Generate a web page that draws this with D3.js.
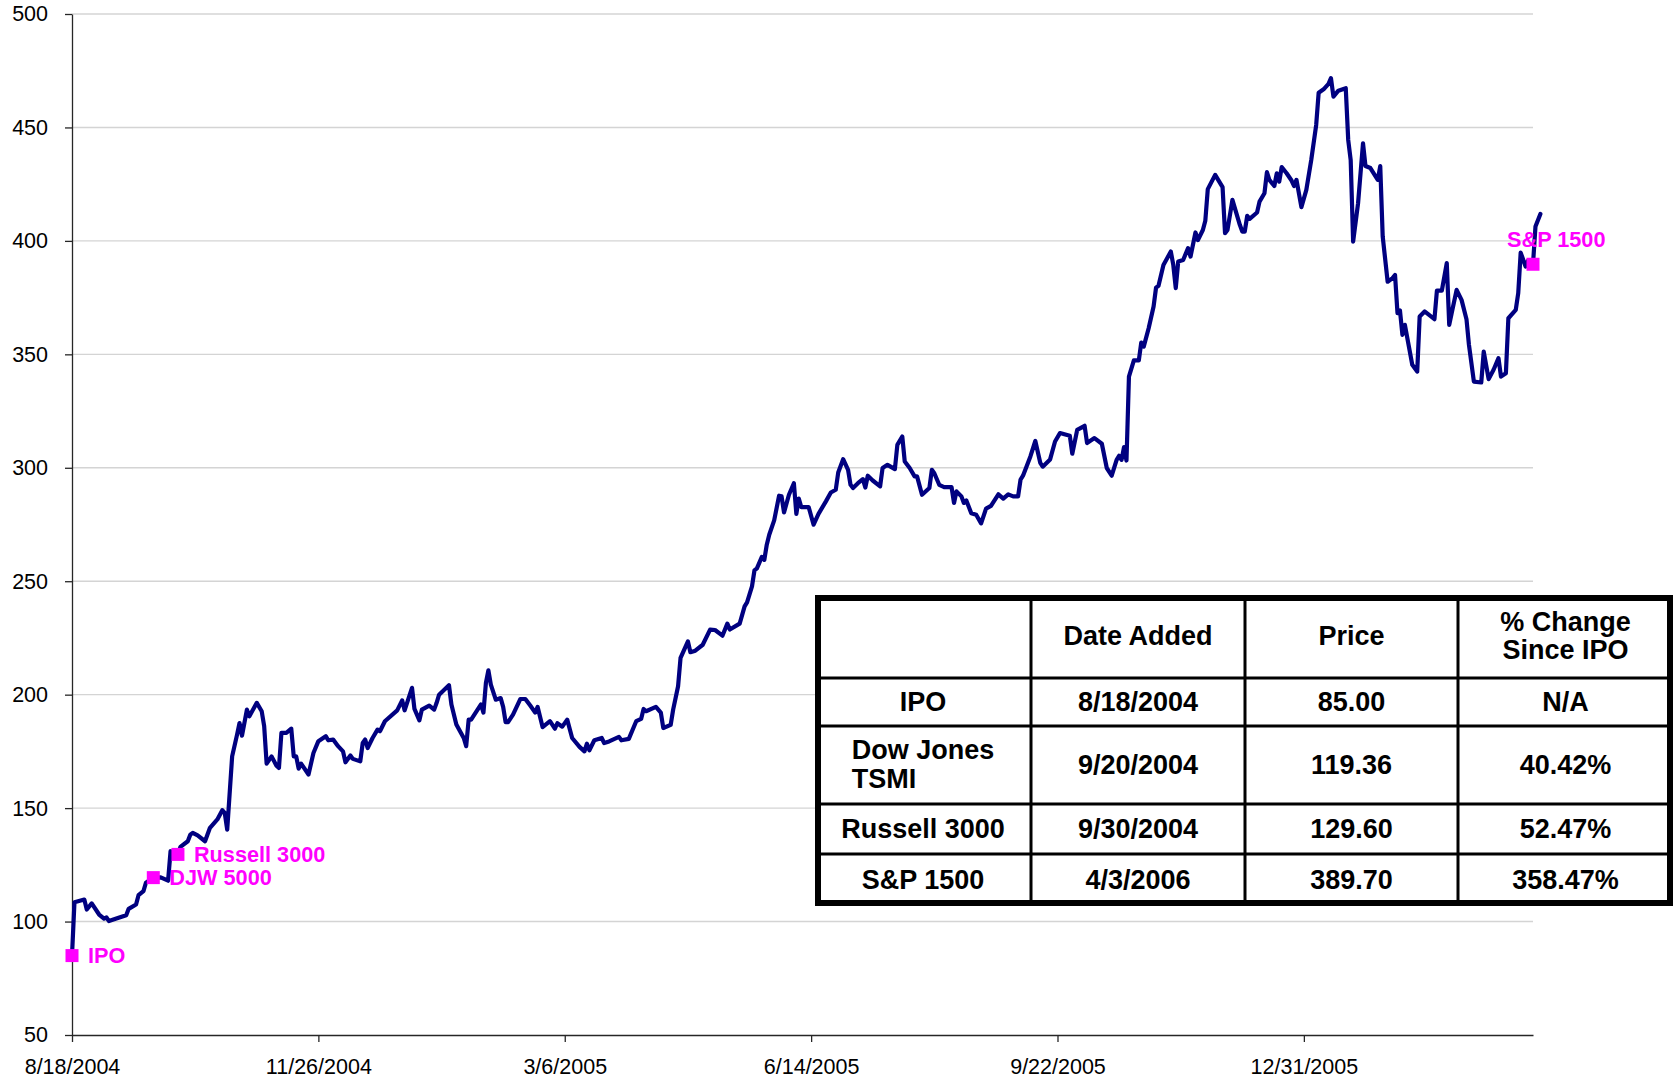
<!DOCTYPE html>
<html>
<head>
<meta charset="utf-8">
<script src="https://cdn.jsdelivr.net/npm/d3@7"></script>
<style>
  html, body { margin: 0; padding: 0; background: #fff; }
  svg { display: block; font-family: "Liberation Sans", Arial, Helvetica, sans-serif; }
</style>
</head>
<body>
<svg id="chart" width="1675" height="1081"></svg>
<script>
// ---- Data -------------------------------------------------------------
// Listing date and daily closing prices (days counted from the IPO date)
const ipoDateText = "8/18/2004";
const axisEndText = "4/3/2006";

const tradingDay = [
  0, 1, 5, 6, 8, 11, 13, 14, 15, 18, 22, 23, 26, 27, 29, 30, 33, 36, 39, 40,
  43, 44, 47, 48, 49, 51, 54, 56, 59, 61, 62, 63, 65, 67, 68, 69, 71, 72, 75, 77,
  78, 79, 81, 83, 84, 85, 87, 89, 90, 91, 92, 93, 96, 98, 100, 103, 104, 106, 108, 110,
  111, 113, 114, 117, 118, 119, 120, 122, 124, 125, 127, 132, 134, 135, 138, 139, 141, 142, 145, 147,
  148, 149, 153, 154, 156, 159, 160, 161, 162, 166, 167, 168, 169, 170, 172, 174, 175, 176, 177, 179,
  182, 184, 186, 188, 189, 191, 194, 196, 197, 199, 201, 203, 206, 208, 209, 210, 212, 215, 216, 218,
  222, 223, 226, 229, 231, 232, 233, 237, 239, 240, 243, 244, 246, 247, 250, 251, 253, 256, 259, 261,
  264, 266, 267, 271, 273, 274, 276, 277, 278, 280, 281, 282, 283, 285, 287, 288, 289, 291, 293, 294,
  295, 296, 299, 301, 303, 306, 308, 310, 311, 313, 315, 316, 317, 319, 321, 322, 323, 325, 328, 329,
  331, 334, 335, 337, 338, 340, 342, 343, 345, 348, 349, 350, 352, 354, 357, 358, 359, 361, 362, 363,
  365, 367, 369, 371, 373, 376, 378, 380, 382, 384, 385, 386, 389, 391, 393, 394, 397, 399, 401, 405,
  406, 408, 411, 412, 415, 418, 420, 422, 424, 425, 426, 427, 428, 429, 431, 433, 434, 435, 437, 439,
  440, 441, 443, 446, 447, 448, 449, 451, 453, 454, 456, 457, 459, 460, 461, 464, 467, 468, 469, 471,
  474, 475, 476, 477, 478, 481, 482, 484, 485, 486, 488, 489, 490, 491, 493, 495, 496, 497, 499, 501,
  503, 505, 506, 508, 510, 511, 512, 514, 517, 518, 519, 520, 522, 524, 525, 527, 530, 531, 532, 534,
  536, 537, 538, 539, 540, 541, 544, 546, 547, 549, 553, 554, 556, 558, 559, 560, 562, 564, 566, 567,
  569, 572, 573, 575, 577, 579, 580, 582, 583, 586, 587, 588, 590, 591, 593, 594, 596
];

const closePrice = [
  85.00, 108.5, 109.7, 105.3, 108.0, 103.1, 101.3, 101.8, 100.2, 101.3, 102.8, 105.6, 107.5, 111.6, 113.4, 117.1, 119.36, 119.5, 118.0, 131.0,
  129.60, 132.9, 135.4, 138.3, 139.1, 138.0, 135.4, 141.3, 145.0, 149.1, 147.9, 140.5, 172.8, 182.4, 187.5, 181.9, 193.4, 190.5, 196.4, 192.7,
  186.1, 169.6, 172.8, 168.7, 167.7, 183.2, 183.2, 185.0, 172.8, 172.8, 167.4, 169.6, 164.8, 174.3, 179.5, 181.7, 179.9, 180.2, 177.3, 175.0,
  170.2, 173.2, 171.7, 170.6, 178.7, 180.2, 176.5, 180.9, 184.6, 183.9, 188.3, 193.1, 197.5, 193.1, 203.0, 193.7, 188.7, 193.4, 195.2, 193.4,
  196.4, 200.0, 204.2, 195.7, 186.9, 180.9, 177.3, 189.0, 189.0, 195.7, 192.1, 205.2, 210.7, 204.4, 197.8, 198.5, 194.6, 187.9, 187.9, 191.2,
  198.1, 198.1, 195.2, 192.1, 194.6, 185.7, 188.3, 185.0, 187.4, 185.9, 189.0, 180.9, 177.0, 175.0, 178.4, 175.5, 179.9, 180.9, 178.7, 179.4,
  181.4, 179.9, 180.5, 188.3, 189.3, 193.7, 192.7, 194.6, 192.1, 185.3, 186.7, 193.4, 203.7, 216.2, 223.5, 218.7, 219.4, 222.0, 228.7, 228.5,
  226.0, 231.3, 228.7, 231.3, 238.9, 240.7, 247.7, 254.8, 255.7, 260.7, 259.4, 266.1, 270.5, 276.8, 287.7, 287.4, 280.3, 288.1, 293.2, 279.7,
  286.4, 282.7, 282.7, 274.9, 279.7, 285.2, 289.1, 290.3, 297.9, 303.8, 299.1, 292.5, 291.1, 293.2, 295.0, 291.3, 296.5, 294.4, 291.8, 299.9,
  301.3, 299.4, 310.1, 313.8, 302.8, 299.9, 296.2, 296.2, 288.1, 291.1, 299.1, 297.6, 292.5, 291.5, 291.5, 284.5, 289.6, 287.4, 284.5, 285.6,
  280.0, 279.3, 275.5, 282.0, 283.2, 288.3, 286.4, 288.3, 287.4, 287.4, 294.8, 296.5, 305.0, 311.8, 302.2, 300.5, 303.7, 311.6, 315.3, 314.1,
  306.2, 316.7, 318.5, 310.9, 313.1, 310.6, 299.9, 296.5, 303.5, 305.3, 303.5, 309.1, 303.2, 340.2, 347.3, 347.3, 355.2, 353.4, 361.5, 371.1,
  379.4, 380.2, 389.4, 395.3, 389.4, 379.2, 390.9, 391.6, 396.8, 393.1, 403.7, 400.4, 404.8, 408.9, 422.8, 429.1, 423.7, 403.4, 404.8, 418.1,
  407.1, 404.1, 404.1, 411.0, 409.7, 412.5, 417.3, 421.0, 430.3, 426.9, 424.2, 429.8, 426.1, 432.5, 429.8, 426.6, 424.2, 426.9, 414.9, 422.5,
  435.7, 451.1, 465.3, 466.8, 469.2, 471.7, 463.6, 466.2, 467.3, 444.5, 435.7, 399.7, 416.6, 443.0, 433.0, 432.1, 426.9, 433.0, 401.9, 382.0,
  383.6, 385.0, 368.2, 369.3, 358.6, 363.0, 345.4, 342.4, 366.7, 368.9, 365.5, 378.1, 378.1, 390.2, 363.0, 368.2, 378.4, 374.0, 365.5, 354.2,
  338.0, 337.6, 351.2, 339.1, 343.2, 348.3, 340.2, 341.7, 365.9, 369.6, 376.9, 394.8, 388.7, 391.3, 389.70, 406.3, 411.9
];

// Index additions flagged on the price line
const markerNames  = ["IPO", "DJW 5000", "Russell 3000", "S&P 1500"];
const markerDates  = ["8/18/2004", "9/20/2004", "9/30/2004", "4/3/2006"];
const markerPrices = [85.00, 119.36, 129.60, 389.70];

// Summary table
const tableHeaders   = ["", "Date Added", "Price", "% Change\nSince IPO"];
const tableRowLabels = ["IPO", "Dow Jones\nTSMI", "Russell 3000", "S&P 1500"];

// Axis ticks
const yTickValues = [50, 100, 150, 200, 250, 300, 350, 400, 450, 500];
const xTickLabels = ["8/18/2004", "11/26/2004", "3/6/2005", "6/14/2005", "9/22/2005", "12/31/2005"];

// ---- Layout -----------------------------------------------------------
const W = 1675, H = 1081;
const plot = { left: 72, top: 14, right: 1533, bottom: 1035 };
const NAVY = "#000080", MAGENTA = "#ff00ff";

const parseDate = d3.timeParse("%m/%d/%Y");
const fmtDate = d3.timeFormat("%-m/%-d/%Y");
const ipoDate = parseDate(ipoDateText);

const series = tradingDay.map((d, i) => ({
  date: d3.timeDay.offset(ipoDate, d),
  price: closePrice[i]
}));

const x = d3.scaleTime()
  .domain([ipoDate, parseDate(axisEndText)])
  .range([plot.left, plot.right]);

const y = d3.scaleLinear()
  .domain([50, 500])
  .range([plot.bottom, plot.top]);

const svg = d3.select("#chart");
svg.append("rect").attr("width", W).attr("height", H).attr("fill", "#fff");

// Horizontal gridlines
svg.append("g")
  .selectAll("line")
  .data(yTickValues.filter(v => v > 50))
  .join("line")
  .attr("x1", plot.left).attr("x2", plot.right)
  .attr("y1", d => y(d)).attr("y2", d => y(d))
  .attr("stroke", "#d4d4d4").attr("stroke-width", 1.4);

// Y axis
const yAxis = svg.append("g")
  .attr("transform", `translate(${plot.left},0)`)
  .call(d3.axisLeft(y).tickValues(yTickValues).tickSize(7).tickSizeOuter(0).tickPadding(17));

// X axis
const xAxis = svg.append("g")
  .attr("transform", `translate(0,${plot.bottom})`)
  .call(d3.axisBottom(x)
    .tickValues(xTickLabels.map(parseDate))
    .tickFormat(fmtDate)
    .tickSize(7).tickSizeOuter(0).tickPadding(17));

[yAxis, xAxis].forEach(g => {
  g.select(".domain").attr("stroke", "#262626").attr("stroke-width", 1.3);
  g.selectAll(".tick line").attr("stroke", "#262626").attr("stroke-width", 1.3);
  g.selectAll(".tick text")
    .attr("fill", "#000")
    .style("font-family", "'Liberation Sans', Arial, sans-serif")
    .style("font-size", "21.5px");
});

// Price line
const line = d3.line()
  .x(d => x(d.date))
  .y(d => y(d.price));

svg.append("path")
  .datum(series)
  .attr("d", line)
  .attr("fill", "none")
  .attr("stroke", NAVY)
  .attr("stroke-width", 4.2)
  .attr("stroke-linejoin", "round")
  .attr("stroke-linecap", "round");

// Index-addition markers and their labels
const markers = markerNames.map((name, i) => ({
  name, date: parseDate(markerDates[i]), price: markerPrices[i]
}));

const MS = 13;
svg.append("g")
  .selectAll("rect")
  .data(markers)
  .join("rect")
  .attr("x", d => x(d.date) - MS / 2)
  .attr("y", d => y(d.price) - MS / 2)
  .attr("width", MS).attr("height", MS)
  .attr("fill", MAGENTA);

const labelOffset = d => d.name === "S&P 1500" ? [-26, -17] : [16, 7.3];
svg.append("g")
  .selectAll("text")
  .data(markers)
  .join("text")
  .attr("x", d => x(d.date) + labelOffset(d)[0])
  .attr("y", d => y(d.price) + labelOffset(d)[1])
  .attr("fill", MAGENTA)
  .style("font-size", "21.7px")
  .style("font-weight", "bold")
  .text(d => d.name);

// ---- Summary table ----------------------------------------------------
const colEdges = [815, 1031, 1245, 1458, 1673];
const rowEdges = [595, 678, 726, 804, 854, 906];
const OUTER = 6, INNER = 3;

const table = svg.append("g");
table.append("rect")
  .attr("x", colEdges[0] + OUTER / 2)
  .attr("y", rowEdges[0] + OUTER / 2)
  .attr("width", colEdges[4] - colEdges[0] - OUTER)
  .attr("height", rowEdges[5] - rowEdges[0] - OUTER)
  .attr("fill", "#fff")
  .attr("stroke", "#000")
  .attr("stroke-width", OUTER);

rowEdges.slice(1, -1).forEach(yy => {
  table.append("line")
    .attr("x1", colEdges[0] + OUTER / 2).attr("x2", colEdges[4] - OUTER / 2)
    .attr("y1", yy).attr("y2", yy)
    .attr("stroke", "#000").attr("stroke-width", INNER);
});
colEdges.slice(1, -1).forEach(xx => {
  table.append("line")
    .attr("x1", xx).attr("x2", xx)
    .attr("y1", rowEdges[0] + OUTER / 2).attr("y2", rowEdges[5] - OUTER / 2)
    .attr("stroke", "#000").attr("stroke-width", INNER);
});

const fmtPct = d3.format(".2%");
const ipoPrice = markerPrices[0];
const cells = [tableHeaders];
tableRowLabels.forEach((label, i) => {
  cells.push([
    label,
    markerDates[i],
    markerPrices[i].toFixed(2),
    i === 0 ? "N/A" : fmtPct(markerPrices[i] / ipoPrice - 1)
  ]);
});

const LINE_H = 28.5;
cells.forEach((row, r) => {
  const cy = (rowEdges[r] + rowEdges[r + 1]) / 2;
  row.forEach((txt, c) => {
    if (!txt) return;
    const cx = (colEdges[c] + colEdges[c + 1]) / 2;
    const lines = txt.split("\n");
    const t = table.append("text")
      .attr("fill", "#000")
      .style("font-size", "27px")
      .style("font-weight", "bold");
    lines.forEach((ln, k) => {
      t.append("tspan")
        .attr("x", cx)
        .attr("y", cy + 8.5 + (k - (lines.length - 1) / 2) * LINE_H)
        .attr("text-anchor", "middle")
        .text(ln);
    });
    // Row labels wrap as a left-aligned block centred in the cell
    if (c === 0 && r > 0 && lines.length > 1) {
      const spans = t.selectAll("tspan").nodes();
      const w = d3.max(spans, s => s.getComputedTextLength());
      spans.forEach(s => {
        d3.select(s).attr("text-anchor", "start").attr("x", cx - w / 2);
      });
    }
  });
});
</script>
</body>
</html>
